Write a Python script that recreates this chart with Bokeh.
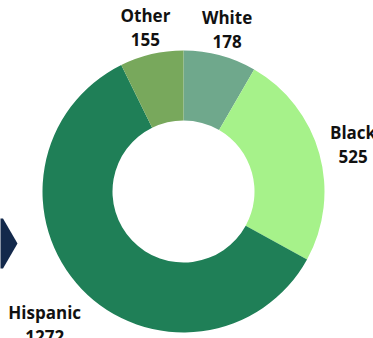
import math
from bokeh.plotting import figure
from bokeh.models import Range1d, ColumnDataSource
from bokeh.core.properties import value
from bokeh.embed import file_html
from bokeh.resources import INLINE

categories = ["White", "Black", "Hispanic", "Other"]
counts = [178, 525, 1272, 155]
colors = ["#6FA88C", "#A6F28A", "#1F7F57", "#78A85C"]
label_dist = [168, 176, 192, 168]

W, H = 373, 338
p = figure(width=W, height=H, output_backend="svg", toolbar_location=None,
           x_range=Range1d(0, W), y_range=Range1d(0, H), min_border=0)
p.axis.visible = False
p.grid.visible = False
p.outline_line_color = None
p.background_fill_color = "white"
p.border_fill_color = "white"

cx, cy = 183, H - 191
r_out, r_in = 141, 71

total = sum(counts)
starts, ends, lx, ly, labels = [], [], [], [], []
cum = 0
for c, n, d in zip(categories, counts, label_dist):
    a0 = math.pi / 2 - 2 * math.pi * cum / total
    a1 = math.pi / 2 - 2 * math.pi * (cum + n) / total
    mid = (a0 + a1) / 2
    starts.append(a0)
    ends.append(a1)
    lx.append(cx + d * math.cos(mid))
    ly.append(cy + d * math.sin(mid))
    labels.append(f"{c}\n{n}")
    cum += n

src = ColumnDataSource(dict(start=starts, end=ends, color=colors))
p.annular_wedge(x=cx, y=cy, inner_radius=r_in, outer_radius=r_out,
                start_angle="start", end_angle="end", direction="clock",
                fill_color="color", line_color=None, source=src)

# decorative navy shape at left edge
p.scatter(x=[-12], y=[H - 243], marker="hex", size=58, fill_color="#13294B", line_color=None)

lsrc = ColumnDataSource(dict(x=lx, y=ly, t=labels))
p.text(x="x", y="y", text="t", source=lsrc, text_align="center", text_baseline="middle",
       text_font=value("Open Sans"), text_font_style="bold", text_font_size="17px",
       text_color="#111111", text_line_height=1.05)

open("out.html", "w").write(file_html(p, INLINE))
